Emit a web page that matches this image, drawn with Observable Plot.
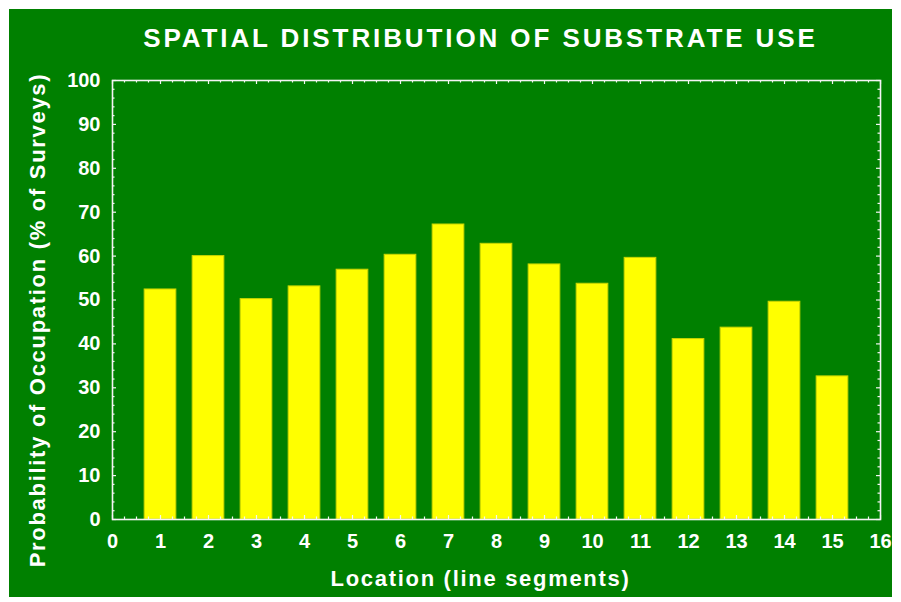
<!DOCTYPE html>
<html><head><meta charset="utf-8">
<script src="https://cdn.jsdelivr.net/npm/d3@7"></script>
<script src="https://cdn.jsdelivr.net/npm/@observablehq/plot@0.6"></script>
<style>
body{margin:0;background:#fff;}
#card{position:absolute;left:9px;top:9px;width:883px;height:588px;background:#008000;font-family:"Liberation Sans",Arial,sans-serif;}
#title{position:absolute;left:30px;width:883px;top:14px;text-align:center;color:#fff;font-weight:bold;font-size:26px;letter-spacing:2.9px;}
#chart{position:absolute;left:0;top:0;}
</style></head><body>
<div id="card"><div id="chart"></div><div id="title">SPATIAL DISTRIBUTION OF SUBSTRATE USE</div></div>
<script>
const locations = [1, 2, 3, 4, 5, 6, 7, 8, 9, 10, 11, 12, 13, 14, 15];
const occupancy = [52.4, 60.0, 50.2, 53.1, 56.9, 60.3, 67.2, 62.8, 58.1, 53.7, 59.6, 41.1, 43.7, 49.6, 32.6];
const xTicks = [0, 1, 2, 3, 4, 5, 6, 7, 8, 9, 10, 11, 12, 13, 14, 15, 16];
const yTicks = [0, 10, 20, 30, 40, 50, 60, 70, 80, 90, 100];
const xMinorStep = 0.25;
const yMinorStep = 2;
const xLabel = "Location (line segments)";
const yLabel = "Probability of Occupation (% of Surveys)";

const data = locations.map((loc, i) => ({loc, value: occupancy[i]}));
const xMinor = d3.range(0, 16 + 1e-9, xMinorStep).filter(v => Math.abs(v - Math.round(v)) > 1e-9);
const yMinor = d3.range(0, 100 + 1e-9, yMinorStep).filter(v => v % 10 !== 0);

const W = 883, H = 588, mL = 103, mT = 71, mR = 12, mB = 78;
const pxX = (W - mL - mR) / 16;   // px per x unit
const pxY = (H - mT - mB) / 100;  // px per y unit
const major = 4, minor = 2.5;
const tickStyle = {stroke: "#f4f4f4", strokeWidth: 1.2};

const halfW = 0.33;

const chart = Plot.plot({
  width: W, height: H,
  marginLeft: mL, marginTop: mT, marginRight: mR, marginBottom: mB,
  style: {background: "transparent", color: "white", fontFamily: "'Liberation Sans', Arial, sans-serif", fontWeight: "bold", fontSize: "20px"},
  x: {domain: [0, 16]},
  y: {domain: [0, 100]},
  marks: [
    Plot.rectY(data, {x1: d => d.loc - halfW, x2: d => d.loc + halfW, y: "value", fill: "#ffff00", stroke: "#c8d400", strokeWidth: 1}),
    // inward ticks: bottom & top
    Plot.ruleX(xTicks, {x: d => d, y1: 0, y2: major / pxY, ...tickStyle}),
    Plot.ruleX(xMinor, {x: d => d, y1: 0, y2: minor / pxY, ...tickStyle}),
    Plot.ruleX(xTicks, {x: d => d, y1: 100, y2: 100 - major / pxY, ...tickStyle}),
    Plot.ruleX(xMinor, {x: d => d, y1: 100, y2: 100 - minor / pxY, ...tickStyle}),
    // inward ticks: left & right
    Plot.ruleY(yTicks, {y: d => d, x1: 0, x2: major / pxX, ...tickStyle}),
    Plot.ruleY(yMinor, {y: d => d, x1: 0, x2: minor / pxX, ...tickStyle}),
    Plot.ruleY(yTicks, {y: d => d, x1: 16, x2: 16 - major / pxX, ...tickStyle}),
    Plot.ruleY(yMinor, {y: d => d, x1: 16, x2: 16 - minor / pxX, ...tickStyle}),
    Plot.frame({stroke: "#f4f4f4", strokeWidth: 1.6}),
    Plot.axisX(xTicks, {tickSize: 0, tickPadding: 14, label: null, fontSize: 20, fontWeight: "bold"}),
    Plot.axisY(yTicks, {tickSize: 0, tickPadding: 12, label: null, fontSize: 20, fontWeight: "bold"}),
    Plot.text([xLabel], {text: d => d, frameAnchor: "bottom", dy: 66, dx: -16, textAnchor: "middle", fill: "white", fontSize: 22, fontWeight: "bold"}),
    Plot.text([yLabel], {text: d => d, frameAnchor: "left", rotate: -90, dx: -75, dy: 20, textAnchor: "middle", fill: "white", fontSize: 22, fontWeight: "bold"})
  ]
});
d3.select(chart).selectAll("text").filter(function() { return this.textContent === xLabel || this.textContent === yLabel; })
  .style("letter-spacing", "1.7px");
document.getElementById("chart").appendChild(chart);
</script>
</body></html>
